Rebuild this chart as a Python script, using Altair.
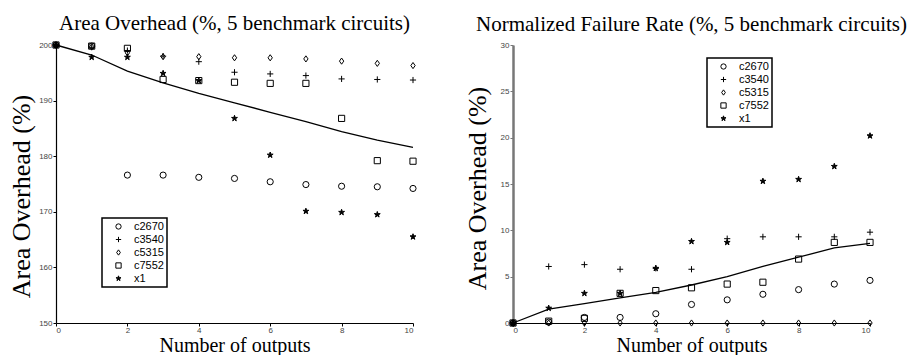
import altair as alt
import pandas as pd

x_vals = [0, 1, 2, 3, 4, 5, 6, 7, 8, 9, 10]
series_names = ["c2670", "c3540", "c5315", "c7552", "x1"]

# Area overhead (%) per benchmark
area_c2670 = [200, 199.8, 176.6, 176.6, 176.2, 176.0, 175.4, 174.9, 174.6, 174.5, 174.2]
area_c3540 = [200, 199.6, 199.0, 198.0, 197.0, 195.1, 194.8, 194.5, 193.9, 193.8, 193.7]
area_c5315 = [200, 199.7, 198.6, 197.9, 197.9, 197.7, 197.7, 197.5, 197.1, 196.7, 196.3]
area_c7552 = [200, 199.8, 199.4, 193.8, 193.6, 193.3, 193.1, 193.1, 186.8, 179.2, 179.1]
area_x1 = [200, 197.8, 197.8, 194.9, 193.6, 186.8, 180.2, 170.1, 169.9, 169.5, 165.5]
area_fit = [200, 198.2, 195.3, 193.2, 191.3, 189.6, 187.9, 186.2, 184.4, 182.9, 181.6]

# Normalized failure rate (%) per benchmark
fail_c2670 = [0, 0.1, 0.6, 0.6, 1.0, 2.0, 2.5, 3.1, 3.6, 4.2, 4.6]
fail_c3540 = [0, 6.1, 6.3, 5.8, 5.9, 5.8, 9.1, 9.3, 9.3, 9.3, 9.8]
fail_c5315 = [0, 0, 0, 0, 0, 0, 0, 0, 0, 0, 0]
fail_c7552 = [0, 0.2, 0.5, 3.2, 3.5, 3.8, 4.2, 4.4, 6.9, 8.7, 8.7]
fail_x1 = [0, 1.6, 3.2, 3.2, 5.9, 8.8, 8.7, 15.3, 15.5, 16.9, 20.2]
fail_fit = [0, 1.5, 2.1, 2.7, 3.3, 4.1, 5.0, 6.1, 7.1, 8.1, 8.6]

area_ticks = [150, 155, 160, 165, 170, 175, 180, 185, 190, 195, 200]
fail_ticks = [0, 5, 10, 15, 20, 25, 30]

STAR = ("M0,-1L0.223,-0.307L0.951,-0.309L0.361,0.117L0.588,0.809L0,0.38"
        "L-0.588,0.809L-0.361,0.117L-0.951,-0.309L-0.223,-0.307Z")
PLUS = "M-1,0L1,0M0,-1L0,1"
DIAMOND = "M0,-1L0.7,0L0,1L-0.7,0Z"
shape_range = ["circle", PLUS, DIAMOND, "square", STAR]
fill_range = ["transparent", "transparent", "transparent", "transparent", "black"]
stroke_range = ["black", "black", "black", "black", "black"]

PLOT_W = 357
PLOT_H = 278


def long_df(lists):
    rows = []
    for name, vals in zip(series_names, lists):
        for xv, yv in zip(x_vals, vals):
            rows.append({"x": xv, "y": yv, "series": name})
    return pd.DataFrame(rows)


def panel(points_df, fit_vals, title, ydom, yticks, lx, ly, ycolor, ywidth, ytp, ty):
    xenc = alt.X("x:Q", scale=alt.Scale(domain=[0, 10], nice=False),
                 axis=alt.Axis(values=x_vals, title="Number of outputs", format="d",
                               domainColor="black", tickColor="black", labelOverlap=False))
    yenc = alt.Y("y:Q", scale=alt.Scale(domain=ydom, nice=False, zero=False),
                 axis=alt.Axis(values=yticks, title="Area Overhead (%)", format="d",
                               domainColor=ycolor, tickColor=ycolor, domainWidth=ywidth,
                               labelOverlap=False, titlePadding=ytp, titleY=ty))
    leg = alt.Legend(title=None, orient="none", legendX=lx, legendY=ly)
    pts = alt.Chart(points_df).mark_point(filled=True, size=38, strokeWidth=1, opacity=1).encode(
        x=xenc, y=yenc,
        shape=alt.Shape("series:N", scale=alt.Scale(domain=series_names, range=shape_range), legend=leg),
        fill=alt.Fill("series:N", scale=alt.Scale(domain=series_names, range=fill_range), legend=leg),
        stroke=alt.Stroke("series:N", scale=alt.Scale(domain=series_names, range=stroke_range), legend=leg),
    )
    fit_df = pd.DataFrame({"x": x_vals, "y": fit_vals})
    line = alt.Chart(fit_df).mark_line(color="black", strokeWidth=1.3).encode(x="x:Q", y="y:Q")
    return alt.layer(line, pts).properties(
        width=PLOT_W, height=PLOT_H,
        title=alt.TitleParams(title, font="Liberation Serif", fontSize=21, fontWeight="normal",
                              color="black", anchor="middle", offset=6),
    )


left = panel(long_df([area_c2670, area_c3540, area_c5315, area_c7552, area_x1]), area_fit,
             "Area Overhead (%, 5 benchmark circuits)", [150, 200], area_ticks, 46, 173,
             "black", 1.2, 4, PLOT_H / 2 + 12)
right = panel(long_df([fail_c2670, fail_c3540, fail_c5315, fail_c7552, fail_x1]), fail_fit,
              "Normalized Failure Rate (%, 5 benchmark circuits)", [0, 30], fail_ticks, 194, 13,
              "#777777", 2.5, 10, PLOT_H / 2 + 4)

chart = alt.hconcat(left, right, spacing=45).resolve_scale(
    shape="independent", fill="independent", stroke="independent"
).resolve_legend(
    shape="independent", fill="independent", stroke="independent"
).configure(
    background="white", padding={"left": 0, "top": 4, "right": 0, "bottom": 0}
).configure_view(stroke=None).configure_axis(
    grid=False, labelFont="Liberation Sans", labelFontSize=8, labelColor="#444444",
    tickSize=3, labelPadding=1, titleFont="Liberation Serif", titleFontSize=20,
    titleFontWeight="normal", titleColor="black", domainWidth=1.2,
).configure_axisX(titlePadding=1, labelPadding=0).configure_axisY(titleFontSize=26).configure_legend(
    strokeColor="black", strokeWidth=1.5, fillColor="white", padding=3,
    labelFont="Liberation Sans", labelFontSize=11, labelColor="black",
    symbolSize=28, symbolStrokeWidth=1, rowPadding=1,
    labelOffset=10, symbolOffset=8,
)

chart.save("out.html", embed_options={"renderer": "svg", "actions": False})
